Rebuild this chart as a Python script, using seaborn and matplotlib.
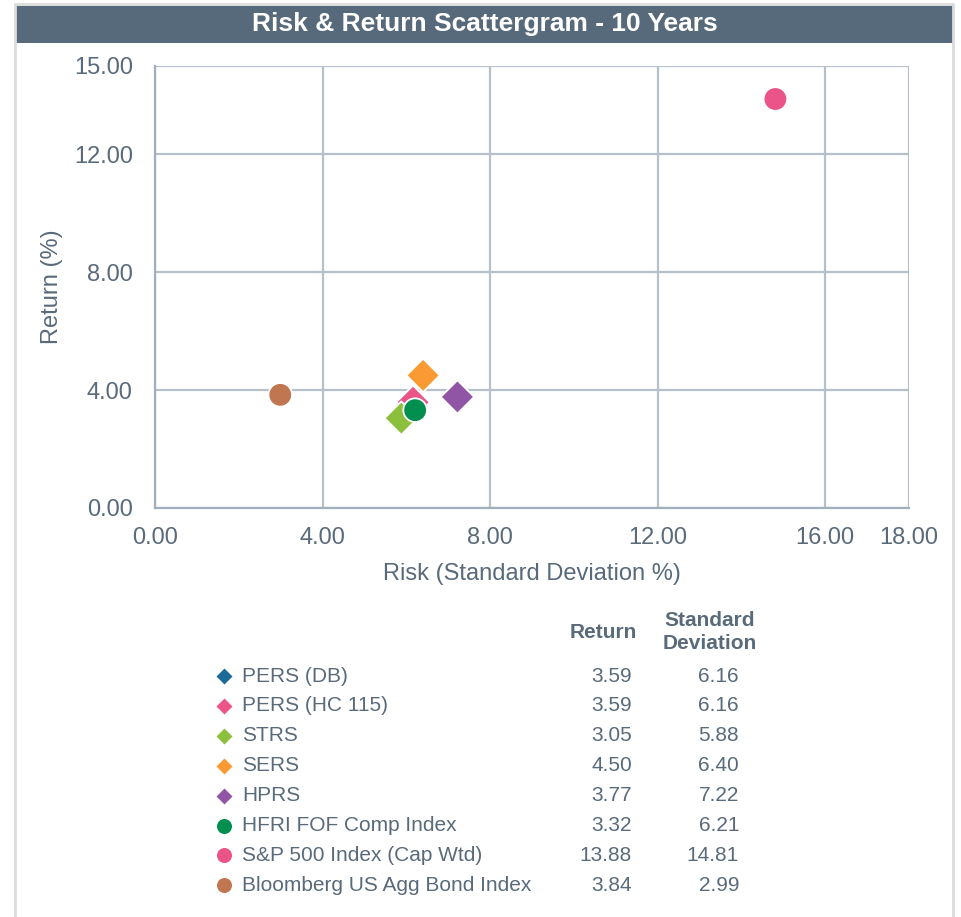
import matplotlib
matplotlib.use("Agg")
import matplotlib.pyplot as plt
import seaborn as sns
import pandas as pd
from matplotlib.patches import Rectangle
from matplotlib.lines import Line2D

# ---- data ----
names = ["PERS (DB)", "PERS (HC 115)", "STRS", "SERS", "HPRS",
         "HFRI FOF Comp Index", "S&P 500 Index (Cap Wtd)", "Bloomberg US Agg Bond Index"]
returns = [3.59, 3.59, 3.05, 4.50, 3.77, 3.32, 13.88, 3.84]
std_devs = [6.16, 6.16, 5.88, 6.40, 7.22, 6.21, 14.81, 2.99]
colors = ["#1b6996", "#ea5488", "#8cc03c", "#f99a32", "#9155a5",
          "#008f4f", "#ea5488", "#c07651"]
markers = ["D", "D", "D", "D", "D", "o", "o", "o"]
x_ticks = [0, 4, 8, 12, 16, 18]
y_ticks = [0, 4, 8, 12, 15]
title = "Risk & Return Scattergram - 10 Years"
x_label = "Risk (Standard Deviation %)"
y_label = "Return (%)"
col_headers = ["Return", "Standard\nDeviation"]

sns.set_style("white")
plt.rcParams["font.family"] = ["Liberation Sans", "DejaVu Sans"]

TXT = "#596a7b"
GRID = "#b6c0cb"
SPINE = "#a3afbc"
BAR = "#576a7b"

W, H = 961, 917
fig = plt.figure(figsize=(W / 100, H / 100), dpi=100)

# background / decoration axes in pixel coordinates
bg = fig.add_axes([0, 0, 1, 1], zorder=0)
bg.set_xlim(0, W)
bg.set_ylim(H, 0)
bg.axis("off")
bg.add_line(Line2D([15, 15], [4, H], color="#dcdcdc", lw=2))
bg.add_line(Line2D([953, 953], [4, H], color="#dcdcdc", lw=2))
bg.add_line(Line2D([15, 953], [4, 4], color="#dcdcdc", lw=2))
bg.add_patch(Rectangle((15, 6), 938, 37, color=BAR, lw=0))
bg.text(485, 24, title, color="white", fontsize=19, fontweight="bold",
        ha="center", va="center")

# main scatter axes
ax = fig.add_axes([155 / W, 1 - 508 / H, 754 / W, 442 / H], zorder=2)
ax.patch.set_alpha(0)
df = pd.DataFrame({"name": names, "ret": returns, "std": std_devs})
sns.scatterplot(data=df, x="std", y="ret", hue="name", style="name",
                palette=dict(zip(names, colors)),
                markers=dict(zip(names, markers)),
                s=290, edgecolor="white", linewidth=1.3, legend=False,
                ax=ax, zorder=3, clip_on=False)
ax.set_xlim(0, 18)
ax.set_ylim(0, 15)
ax.set_xticks(x_ticks)
ax.set_xticklabels([f"{v:.2f}" for v in x_ticks])
ax.set_yticks(y_ticks)
ax.set_yticklabels([f"{v:.2f}" for v in y_ticks])
ax.grid(True, color=GRID, lw=1.6)
ax.set_axisbelow(True)
for side in ["top", "right"]:
    ax.spines[side].set_visible(False)
for side in ["left", "bottom"]:
    ax.spines[side].set_color(SPINE)
    ax.spines[side].set_linewidth(1.6)
ax.tick_params(axis="both", colors=SPINE, length=8, width=1.4, pad=6,
               labelsize=17, labelcolor=TXT)
ax.tick_params(axis="y", pad=8)
ax.set_xlabel(x_label, fontsize=17, color=TXT, labelpad=10)
ax.set_ylabel(y_label, fontsize=17, color=TXT, labelpad=8)

# table-like legend
ret_x, std_x = 632, 739
bg.text(603, 633, col_headers[0], fontsize=15, fontweight="bold", color=TXT,
        ha="center", va="center")
bg.text(710, 632, col_headers[1], fontsize=15, fontweight="bold", color=TXT,
        ha="center", va="center", linespacing=1.3)
row0, step = 676, 29.9
for i, (n, r, sd, c, m) in enumerate(zip(names, returns, std_devs, colors, markers)):
    y = row0 + i * step
    size = 80 if m == "D" else 135
    bg.scatter([224], [y], marker=m, s=size, color=c, edgecolor="white",
               linewidth=0.8, zorder=3, clip_on=False)
    bg.text(242, y, n, fontsize=15, color=TXT, ha="left", va="center")
    bg.text(ret_x, y, f"{r:.2f}", fontsize=15, color=TXT, ha="right", va="center")
    bg.text(std_x, y, f"{sd:.2f}", fontsize=15, color=TXT, ha="right", va="center")

fig.savefig("out.png", dpi=100)
